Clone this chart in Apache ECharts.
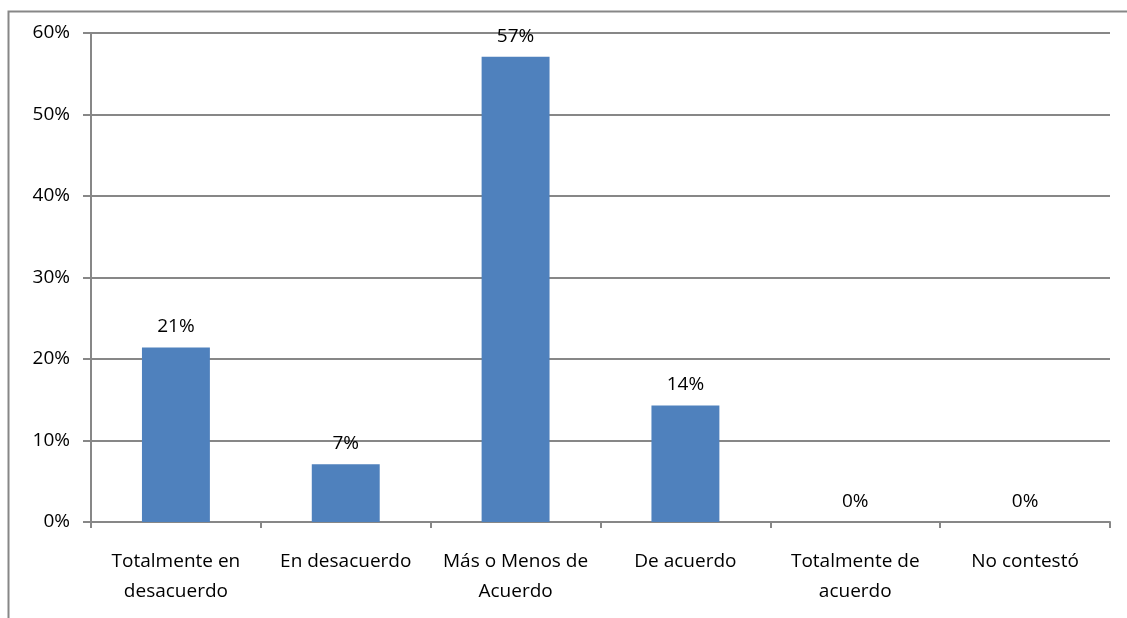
<!DOCTYPE html>
<html>
<head>
<meta charset="utf-8">
<script src="https://cdn.jsdelivr.net/npm/echarts@6/dist/echarts.min.js"></script>
<style>
  html, body { margin: 0; padding: 0; background: #fff; }
  #chart { width: 1127px; height: 618px; }
</style>
</head>
<body>
<div id="chart"></div>
<script>
// Survey responses by level of agreement (share of respondents, %)
const categories = [
  'Totalmente en\ndesacuerdo',
  'En desacuerdo',
  'Más o Menos de\nAcuerdo',
  'De acuerdo',
  'Totalmente de\nacuerdo',
  'No contestó'
];
const shares = [21.4, 7.1, 57.1, 14.3, 0, 0];
const yTicks = { min: 0, max: 60, interval: 10 };

const FONT = '"Open Sans", "Noto Sans", sans-serif';
const FONT_SIZE = 19;
const AXIS_GRAY = '#878787';

const chart = echarts.init(document.getElementById('chart'), null, { renderer: 'canvas' });

chart.setOption({
  animation: false,
  backgroundColor: '#ffffff',
  graphic: [{
    type: 'rect',
    left: 6, top: 9,
    shape: { width: 1140, height: 630 },
    style: { fill: 'none', stroke: AXIS_GRAY, lineWidth: 2 },
    silent: true,
    z: -1
  }],
  grid: { left: 91, top: 33, right: 17, bottom: 96 },
  xAxis: {
    type: 'category',
    data: categories,
    axisLine: { lineStyle: { color: AXIS_GRAY, width: 2 } },
    axisTick: { show: true, length: 6, lineStyle: { color: AXIS_GRAY, width: 2 } },
    axisLabel: {
      color: '#000',
      fontFamily: FONT,
      fontSize: FONT_SIZE,
      lineHeight: 30,
      margin: 25,
      interval: 0
    }
  },
  yAxis: {
    type: 'value',
    min: yTicks.min,
    max: yTicks.max,
    interval: yTicks.interval,
    axisLine: { show: true, lineStyle: { color: AXIS_GRAY, width: 2 } },
    axisTick: { show: true, length: 8, lineStyle: { color: AXIS_GRAY, width: 2 } },
    splitLine: { lineStyle: { color: AXIS_GRAY, width: 2 } },
    axisLabel: {
      color: '#000',
      fontFamily: FONT,
      fontSize: FONT_SIZE,
      margin: 21,
      formatter: v => v + '%'
    }
  },
  series: [{
    type: 'bar',
    data: shares,
    barWidth: '40%',
    itemStyle: { color: '#4F81BD' },
    label: {
      show: true,
      position: 'top',
      distance: 11,
      color: '#000',
      fontFamily: FONT,
      fontSize: FONT_SIZE,
      formatter: p => Math.round(p.value) + '%'
    }
  }]
});
</script>
</body>
</html>
